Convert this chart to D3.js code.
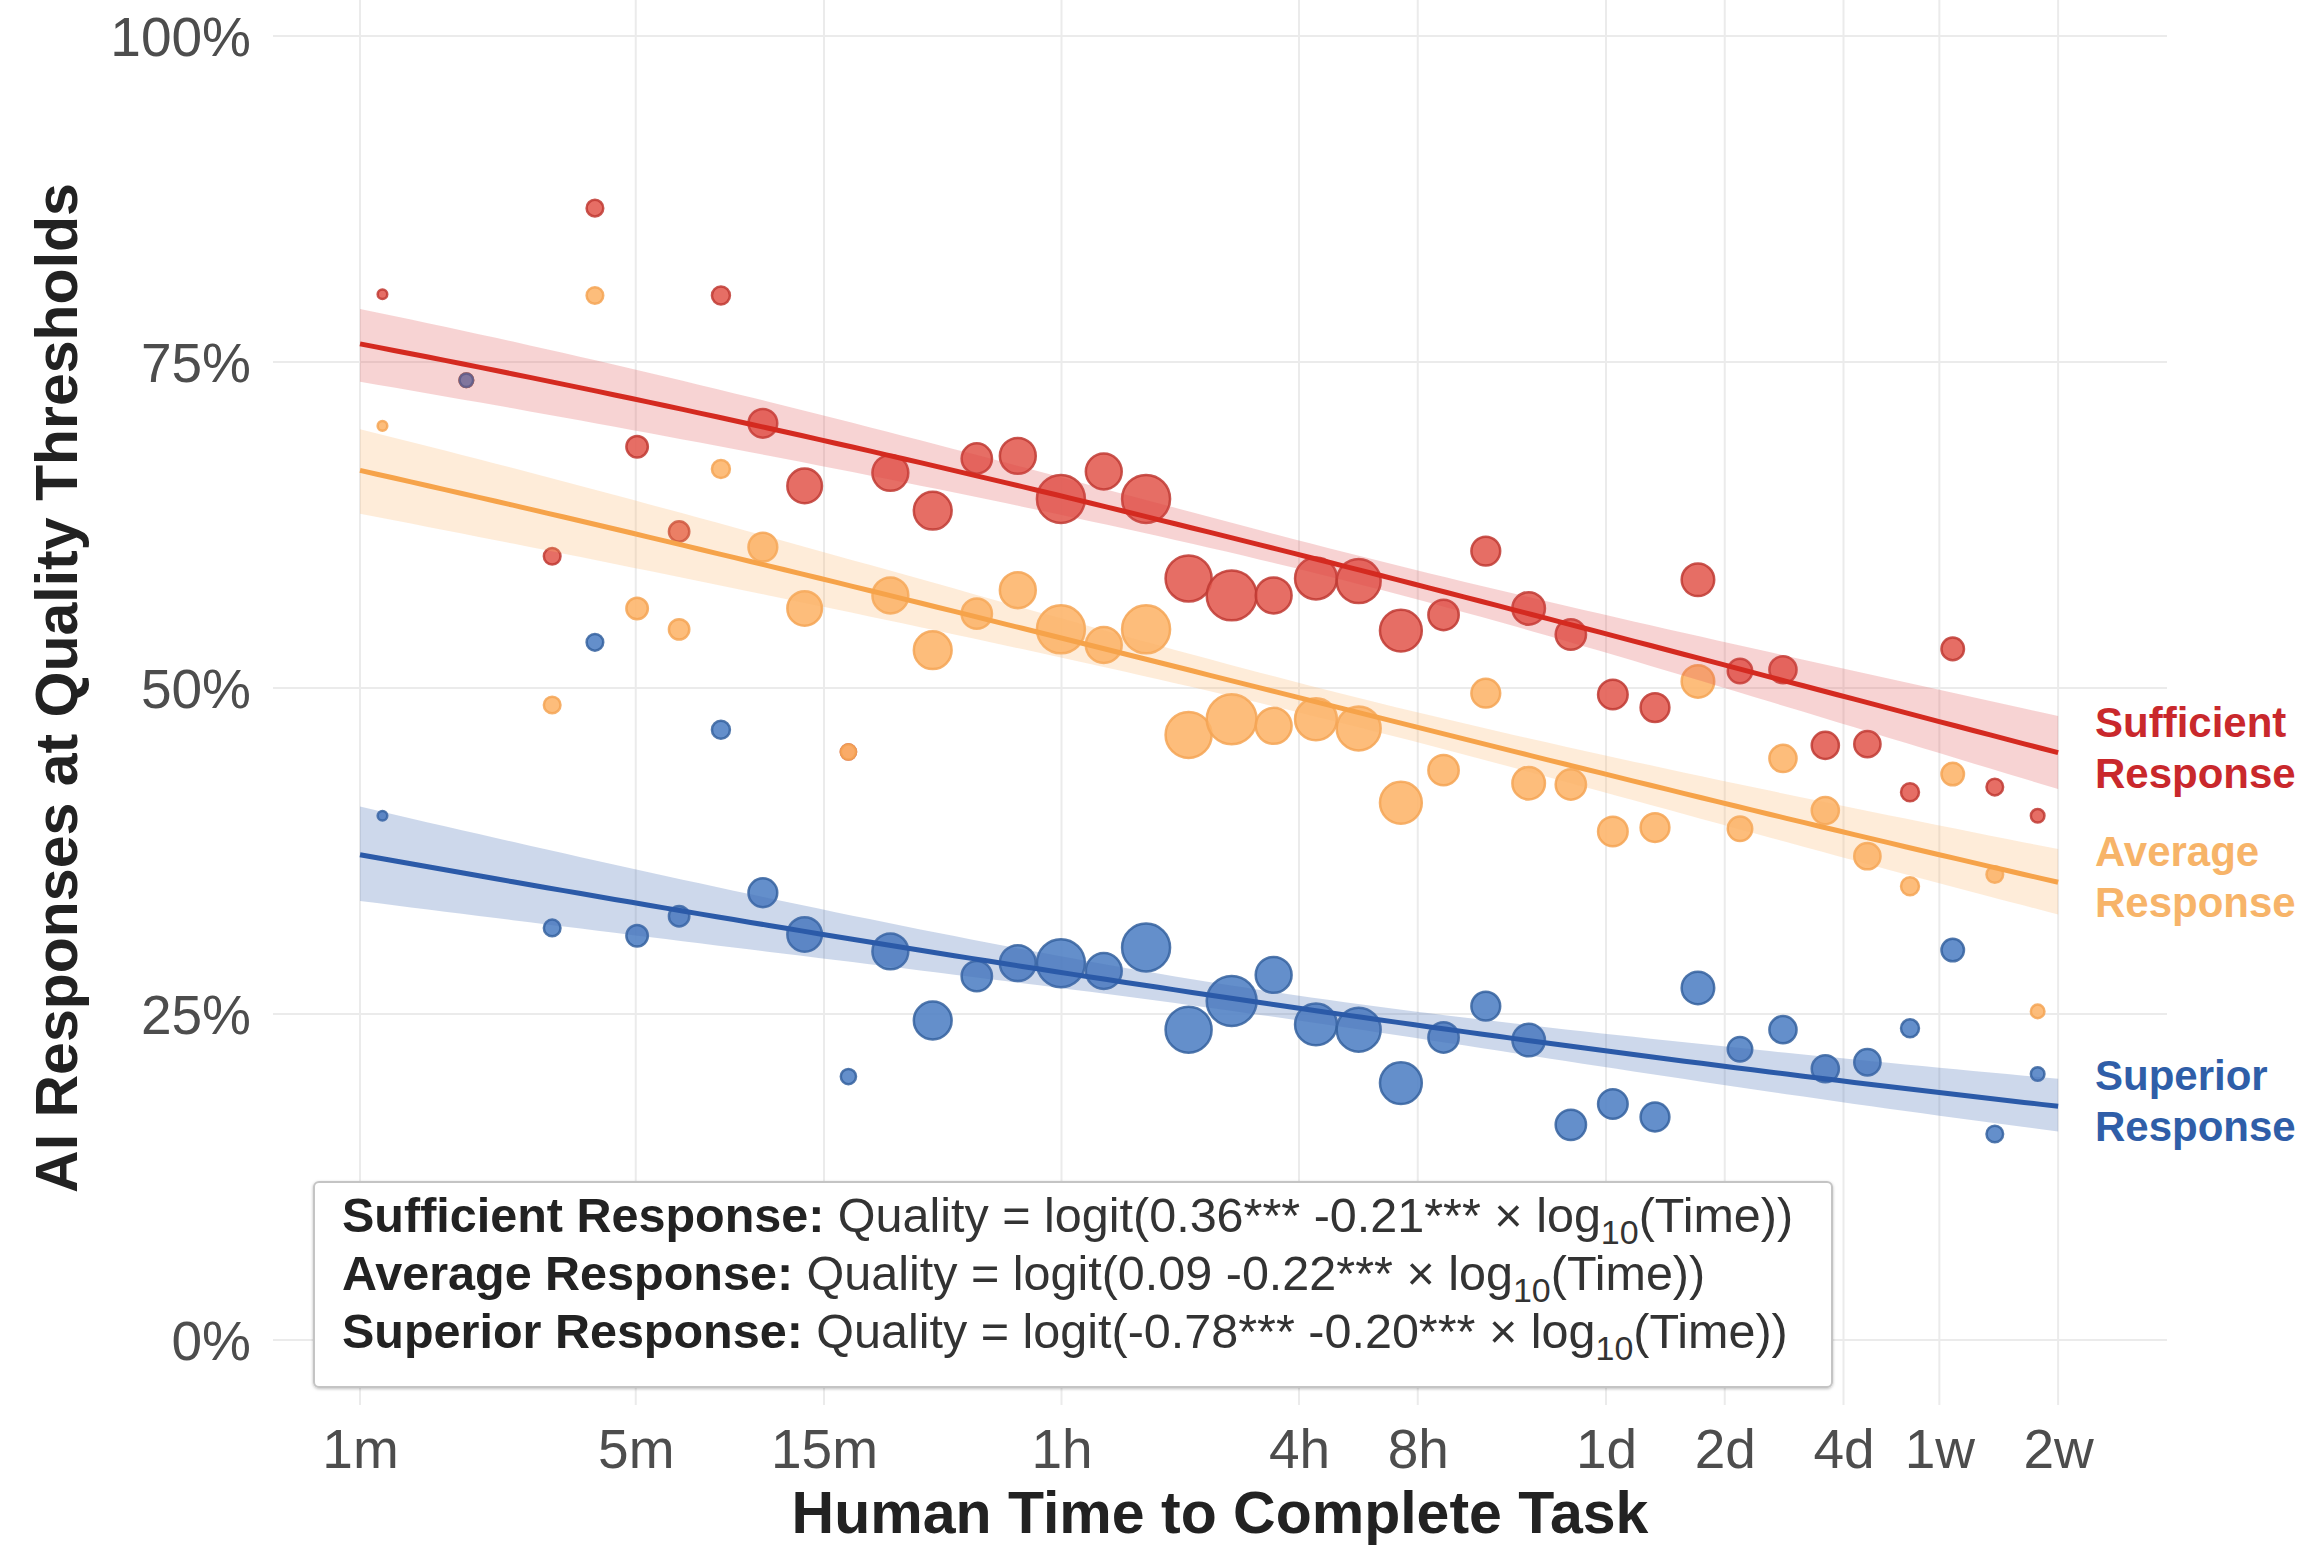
<!DOCTYPE html>
<html>
<head>
<meta charset="utf-8">
<script src="https://cdn.jsdelivr.net/npm/d3@7"></script>
<style>
  html, body { margin: 0; padding: 0; background: #ffffff; }
  svg { display: block; font-family: "Liberation Sans", Arial, Helvetica, sans-serif; }
</style>
</head>
<body>
<svg id="chart" width="2305" height="1546"></svg>
<script>
// ---------------- DATA ----------------
// Task time bins (minutes)
const times = [1.14, 1.86, 3.07, 3.94, 5.04, 6.44, 8.22, 10.5, 13.4, 17.3, 22.1, 28.3, 36.6, 46.5, 59.8, 76.8, 98.3, 126, 162, 207, 265, 340, 435, 558, 714, 917, 1173, 1499, 1917, 2463, 3148, 4046, 5180, 6622, 8492, 10897, 13932, 17890];
// Share of AI responses at each threshold (%)
const sufficient = [80.2, 73.6, 60.1, 86.8, 68.5, 62.0, 80.1, 70.3, 65.5, 45.1, 66.5, 63.6, 67.6, 67.8, 64.5, 66.6, 64.5, 58.4, 57.1, 57.1, 58.4, 58.2, 54.4, 55.6, 60.5, 56.1, 54.1, 49.5, 48.5, 58.3, 51.3, 51.4, 45.6, 45.7, 42.0, 53.0, 42.4, 40.2];
const average    = [70.1, 73.6, 48.7, 80.1, 56.1, 54.5, 66.8, 60.8, 56.1, 45.1, 57.1, 52.9, 55.7, 57.5, 54.5, 53.3, 54.5, 46.4, 47.6, 47.1, 47.6, 46.9, 41.2, 43.7, 49.6, 42.7, 42.6, 39.0, 39.3, 50.5, 39.2, 44.6, 40.6, 37.1, 34.8, 43.4, 35.7, 25.2];
const superior   = [40.2, 73.6, 31.6, 53.5, 31.0, 32.5, 46.8, 34.3, 31.1, 20.2, 29.8, 24.5, 27.9, 28.9, 28.9, 28.3, 30.1, 23.8, 26.0, 28.0, 24.2, 23.8, 19.7, 23.2, 25.6, 23.0, 16.5, 18.1, 17.1, 27.0, 22.3, 23.8, 20.8, 21.3, 23.9, 29.9, 15.8, 20.4];
// Number of tasks per bin (point size)
const taskCounts = [2, 4, 6, 6, 10, 9, 7, 18, 26, 5, 28, 31, 20, 28, 50, 28, 50, 46, 54, 28, 38, 42, 38, 20, 18, 23, 20, 19, 18, 23, 13, 16, 16, 15, 7, 11, 6, 4];

// Series
const seriesNames   = ["Sufficient", "Average", "Superior"];
const seriesLabels  = [["Sufficient", "Response"], ["Average", "Response"], ["Superior", "Response"]];
// Fitted logistic curves: logit(p) = a + b*log10(minutes)
const fitIntercept  = [1.174, 0.694, -0.523];
const fitSlope      = [-0.319, -0.304, -0.232];
// Confidence-band half-width in logit units: sqrt(h0^2 + h1^2 (x - xm)^2)
const bandH0        = [0.045, 0.045, 0.050];
const bandH1        = [0.0586, 0.0556, 0.0638];
const bandXm        = [2.53, 2.50, 2.30];
const fitRange      = [1, 20160];

// Equation box text
const eqIntercepts  = ["0.36***", "0.09", "-0.78***"];
const eqSlopes      = ["-0.21***", "-0.22***", "-0.20***"];

// Axis ticks
const xTickValues = [1, 5, 15, 60, 240, 480, 1440, 2880, 5760, 10080, 20160];
const xTickLabels = ["1m", "5m", "15m", "1h", "4h", "8h", "1d", "2d", "4d", "1w", "2w"];
const yTickValues = [0, 0.25, 0.5, 0.75, 1];
const yTickLabels = ["0%", "25%", "50%", "75%", "100%"];

const xTitle = "Human Time to Complete Task";
const yTitle = "AI Responses at Quality Thresholds";

// ---------------- STYLE ----------------
const fillColors   = ["#e25a50", "#fdb469", "#4f7fc4"];
const strokeColors = ["#c03a33", "#f4a555", "#35629f"];
const lineColors   = ["#d42a20", "#f6a34a", "#2b5aa8"];
const bandColors   = ["rgba(222,70,70,0.24)", "rgba(253,180,105,0.25)", "rgba(70,110,180,0.27)"];
const labelColors  = ["#c9282c", "#f7b469", "#2f5ea8"];

// ---------------- SCALES ----------------
const svg = d3.select("#chart");
const panel = { left: 273, right: 2167, top: 0, bottom: 1405 };

const x = d3.scaleLog().domain([0.6018, 38060]).range([panel.left, panel.right]);
const y = d3.scaleLinear().domain([0, 1]).range([1340, 36]);
const r = d3.scaleSqrt().domain([0, 50]).range([0, 24]);

// ---------------- GRID ----------------
const grid = svg.append("g");
grid.selectAll("line.v").data(xTickValues).join("line")
  .attr("x1", d => x(d)).attr("x2", d => x(d))
  .attr("y1", panel.top).attr("y2", panel.bottom)
  .attr("stroke", "#ebebeb").attr("stroke-width", 2);
grid.selectAll("line.h").data(yTickValues).join("line")
  .attr("x1", panel.left).attr("x2", panel.right)
  .attr("y1", d => y(d)).attr("y2", d => y(d))
  .attr("stroke", "#ebebeb").attr("stroke-width", 2);

// ---------------- AXES ----------------
const xAxis = d3.axisBottom(x).tickValues(xTickValues)
  .tickFormat((d, i) => xTickLabels[i]).tickSize(0).tickPadding(0);
const gx = svg.append("g").attr("transform", "translate(0,1428)").call(xAxis);
gx.select(".domain").remove();
gx.selectAll("text").attr("font-size", 55).attr("fill", "#4d4d4d")
  .attr("font-family", "Liberation Sans, Arial, sans-serif").attr("dy", "0.73em");

const yAxis = d3.axisLeft(y).tickValues(yTickValues)
  .tickFormat((d, i) => yTickLabels[i]).tickSize(0).tickPadding(0);
const gy = svg.append("g").attr("transform", "translate(251,0)").call(yAxis);
gy.select(".domain").remove();
gy.selectAll("text").attr("font-size", 55).attr("fill", "#4d4d4d")
  .attr("font-family", "Liberation Sans, Arial, sans-serif").attr("dy", "0.36em");

// axis titles
svg.append("text").attr("x", (panel.left + panel.right) / 2).attr("y", 1533)
  .attr("text-anchor", "middle").attr("font-size", 59).attr("font-weight", "bold")
  .attr("fill", "#222").text(xTitle);
svg.append("text").attr("transform", "translate(77,688) rotate(-90)")
  .attr("text-anchor", "middle").attr("font-size", 59).attr("font-weight", "bold")
  .attr("fill", "#222").text(yTitle);

// ---------------- DATA STRUCTURES ----------------
const seriesValues = [sufficient, average, superior];
const logistic = v => 1 / (1 + Math.exp(-v));
const curveT = d3.range(0, 1.0001, 0.01).map(f =>
  Math.pow(10, Math.log10(fitRange[0]) + f * (Math.log10(fitRange[1]) - Math.log10(fitRange[0]))));

// ---------------- POINTS ----------------
const pts = svg.append("g");
seriesValues.forEach((vals, s) => {
  pts.append("g").selectAll("circle")
    .data(times.map((t, i) => ({ t, v: vals[i] / 100, n: taskCounts[i] })))
    .join("circle")
    .attr("cx", d => x(d.t)).attr("cy", d => y(d.v)).attr("r", d => r(d.n))
    .attr("fill", fillColors[s]).attr("fill-opacity", 0.88)
    .attr("stroke", strokeColors[s]).attr("stroke-opacity", 0.85).attr("stroke-width", 2.5);
});

// ---------------- FIT BANDS + LINES ----------------
const fits = svg.append("g");
seriesValues.forEach((vals, s) => {
  const rows = curveT.map(t => {
    const lx = Math.log10(t);
    const eta = fitIntercept[s] + fitSlope[s] * lx;
    const hw = Math.sqrt(bandH0[s] ** 2 + bandH1[s] ** 2 * (lx - bandXm[s]) ** 2);
    return { t, p: logistic(eta), lo: logistic(eta - hw), hi: logistic(eta + hw) };
  });
  fits.append("path").datum(rows)
    .attr("d", d3.area().x(d => x(d.t)).y0(d => y(d.lo)).y1(d => y(d.hi)))
    .attr("fill", bandColors[s]);
  fits.append("path").datum(rows)
    .attr("d", d3.line().x(d => x(d.t)).y(d => y(d.p)))
    .attr("fill", "none").attr("stroke", lineColors[s]).attr("stroke-width", 5);

  // end labels
  const yEnd = y(rows[rows.length - 1].p);
  const lab = svg.append("text").attr("font-size", 42).attr("font-weight", "bold")
    .attr("fill", labelColors[s]);
  lab.append("tspan").attr("x", 2095).attr("y", yEnd - 16).text(seriesLabels[s][0]);
  lab.append("tspan").attr("x", 2095).attr("y", yEnd + 35).text(seriesLabels[s][1]);
});

// ---------------- EQUATION BOX ----------------
const defs = svg.append("defs");
const f = defs.append("filter").attr("id", "sh").attr("x", "-2%").attr("y", "-5%")
  .attr("width", "104%").attr("height", "112%");
f.append("feDropShadow").attr("dx", 0).attr("dy", 1).attr("stdDeviation", 1.5)
  .attr("flood-color", "#000").attr("flood-opacity", 0.25);

svg.append("rect").attr("x", 314).attr("y", 1182).attr("width", 1518).attr("height", 205)
  .attr("rx", 5).attr("fill", "#fff").attr("stroke", "#c4c4c4").attr("stroke-width", 2)
  .attr("filter", "url(#sh)");

seriesNames.forEach((name, s) => {
  const t = svg.append("text").attr("x", 342).attr("y", 1232 + s * 58)
    .attr("font-size", 48.5).attr("fill", "#333");
  t.append("tspan").attr("font-weight", "bold").attr("fill", "#222").text(name + " Response:");
  t.append("tspan").text(" Quality = logit(" + eqIntercepts[s] + " " + eqSlopes[s] + " \u00d7 log");
  t.append("tspan").attr("font-size", 34).attr("dy", 12).text("10");
  t.append("tspan").attr("dy", -12).text("(Time))");
});
</script>
</body>
</html>
